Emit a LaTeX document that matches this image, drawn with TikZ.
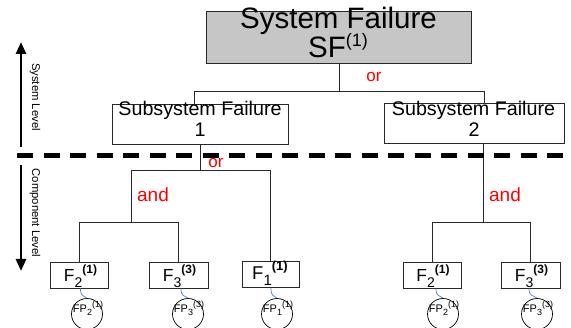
\documentclass[tikz,border=0pt]{standalone}
\usepackage{fontspec}
\setmainfont{Liberation Sans}
\usetikzlibrary{arrows.meta}
\definecolor{sfgray}{RGB}{198,198,198}
\definecolor{lnkblue}{RGB}{85,125,200}
\definecolor{opred}{RGB}{255,0,0}
\definecolor{edge}{RGB}{40,40,40}
\newcommand\fsz[1]{\fontsize{#1}{#1}\selectfont}
\newcommand\upx[3]{\raisebox{#3}{\fsz{#2}#1}}
\begin{document}
\begin{tikzpicture}[x=1pt,y=-1pt,
  fbox/.style={draw=edge,line width=0.9pt,rectangle,inner sep=0pt,minimum width=#1,minimum height=26pt},
  sbox/.style={draw=edge,line width=0.9pt,rectangle,inner sep=0pt,minimum width=#1,minimum height=40pt},
  fpc/.style={draw=black,line width=0.7pt,circle,inner sep=0pt,minimum size=31pt},
  txt/.style={inner sep=0pt,anchor=base},
  conn/.style={draw=edge,line width=0.9pt},
  blink/.style={draw=lnkblue,line width=0.7pt},
  optxt/.style={inner sep=0pt,anchor=base,text=opred},
  lvl/.style={line width=2.6pt,-{Triangle[length=12pt,width=10pt]}},
  lvltxt/.style={inner sep=0pt,rotate=-90,font=\fsz{11.3}}
]
\useasboundingbox (0,0) rectangle (571,328);

% boxes
\node[draw=edge,line width=0.9pt,fill=sfgray,rectangle,inner sep=0pt,minimum width=265pt,minimum height=52pt] (SF) at (338.5,37) {};
\node[sbox=176pt] (S1) at (200,124) {};
\node[sbox=180pt] (S2) at (474,123.5) {};
\node[fbox=58pt] (F2a) at (79,275) {};
\node[fbox=59pt] (F3a) at (178.5,275) {};
\node[fbox=57pt] (F1) at (270.5,274.5) {};
\node[fbox=58pt] (F2b) at (432,275) {};
\node[fbox=59pt] (F3b) at (530.5,275) {};
\node[fpc] (C2a) at (87,314) {};
\node[fpc] (C3a) at (188,314) {};
\node[fpc] (C1) at (277,314) {};
\node[fpc] (C2b) at (443,314) {};
\node[fpc] (C3b) at (537,314) {};

% texts
\node[txt,font=\fsz{29.5}] (tSF1) at (338.5,28.5) {System Failure};
\node[txt,font=\fsz{29.5}] (tSF2) at (338,58) {SF\upx{(1)}{18}{11pt}};
\node[txt,font=\fsz{19.7}] (tS1a) at (200,116) {Subsystem Failure};
\node[txt,font=\fsz{19.7}] (tS1b) at (200,137) {1};
\node[txt,font=\fsz{19.7}] (tS2a) at (473.5,116) {Subsystem Failure};
\node[txt,font=\fsz{19.7}] (tS2b) at (474,137) {2};
\node[txt,font=\fsz{17.5}] (tF2a) at (80.5,282) {F\upx{2}{14}{-5.5pt}\upx{\bfseries(1)}{12}{8pt}};
\node[txt,font=\fsz{17.5}] (tF3a) at (179.5,282) {F\upx{3}{14}{-5.5pt}\upx{\bfseries(3)}{12}{8pt}};
\node[txt,font=\fsz{18.5}] (tF1) at (270,279.5) {F\upx{1}{15}{-6pt}\upx{\bfseries(1)}{13}{8.5pt}};
\node[txt,font=\fsz{17.5}] (tF2b) at (433,282) {F\upx{2}{14}{-5.5pt}\upx{\bfseries(1)}{12}{8pt}};
\node[txt,font=\fsz{17.5}] (tF3b) at (531.5,282) {F\upx{3}{14}{-5.5pt}\upx{\bfseries(3)}{12}{8pt}};
\node[txt,font=\fsz{11}] (tC2a) at (88,313) {FP\upx{2}{9}{-3pt}\upx{(1)}{9}{5pt}};
\node[txt,font=\fsz{11}] (tC3a) at (189,313) {FP\upx{3}{9}{-3pt}\upx{(3)}{9}{5pt}};
\node[txt,font=\fsz{11}] (tC1) at (278,313) {FP\upx{1}{9}{-3pt}\upx{(1)}{9}{5pt}};
\node[txt,font=\fsz{11}] (tC2b) at (444,313) {FP\upx{2}{9}{-3pt}\upx{(1)}{9}{5pt}};
\node[txt,font=\fsz{11}] (tC3b) at (538,313) {FP\upx{3}{9}{-3pt}\upx{(3)}{9}{5pt}};

% operator labels
\node[optxt,font=\fsz{17}] (or1) at (374,82) {or};
\node[optxt,font=\fsz{17}] (or2) at (216,168) {or};
\node[optxt,font=\fsz{19}] (and1) at (153,201.5) {and};
\node[optxt,font=\fsz{19}] (and2) at (505,202) {and};

% junctions
\coordinate (j0) at (339.5,91);
\coordinate (jl) at (194,91);
\coordinate (jr) at (484,91);
\coordinate (k0) at (200.5,170);
\coordinate (kl) at (131,170);
\coordinate (kr) at (270.5,170);
\coordinate (m0) at (131,222);
\coordinate (ml) at (79,222);
\coordinate (mr) at (178.5,222);
\coordinate (n0) at (483,222);
\coordinate (nl) at (432,222);
\coordinate (nr) at (530.5,222);

\draw[conn] (SF.south -| j0) -- (j0);
\draw[conn] (jl |- S1.north) -- (jl) -- (jr) -- (jr |- S2.north);
\draw[conn] (S1.south -| k0) -- (k0);
\draw[conn] (kl |- m0) -- (kl) -- (kr) -- (F1.north);
\draw[conn] (F2a.north) -- (ml) -- (mr) -- (F3a.north);
\draw[conn] (S2.south -| n0) -- (n0);
\draw[conn] (F2b.north) -- (nl) -- (nr) -- (F3b.north);

% blue links
\draw[blink] ([xshift=1.5pt]F2a.south) .. controls +(0,8) and +(-4,-3) .. (C2a.north);
\draw[blink] ([xshift=2.5pt]F3a.south) .. controls +(0,8) and +(-4,-3) .. (C3a.north);
\draw[blink] ([xshift=0.5pt]F1.south) .. controls +(0,8) and +(-4,-3) .. (C1.north);
\draw[blink] ([xshift=4pt]F2b.south) .. controls +(0,8) and +(-4,-3) .. (C2b.north);
\draw[blink] ([xshift=-1.5pt]F3b.south) .. controls +(0,8) and +(-4,-3) .. (C3b.north);

% level divider
\coordinate (dl) at (17,156);
\coordinate (dr) at (571,156);
\draw[line width=5pt,dash pattern=on 16pt off 10.5pt] (dl) -- (dr);

% level arrows
\coordinate (a1s) at (21,147);
\coordinate (a1e) at (21,42);
\coordinate (a2s) at (21,165);
\coordinate (a2e) at (21,271);
\draw[lvl] (a1s) -- (a1e);
\draw[lvl] (a2s) -- (a2e);
\node[lvltxt] (lsys) at (35,97) {System Level};
\node[lvltxt] (lcomp) at (35,213) {Component Level};
\end{tikzpicture}
\end{document}
